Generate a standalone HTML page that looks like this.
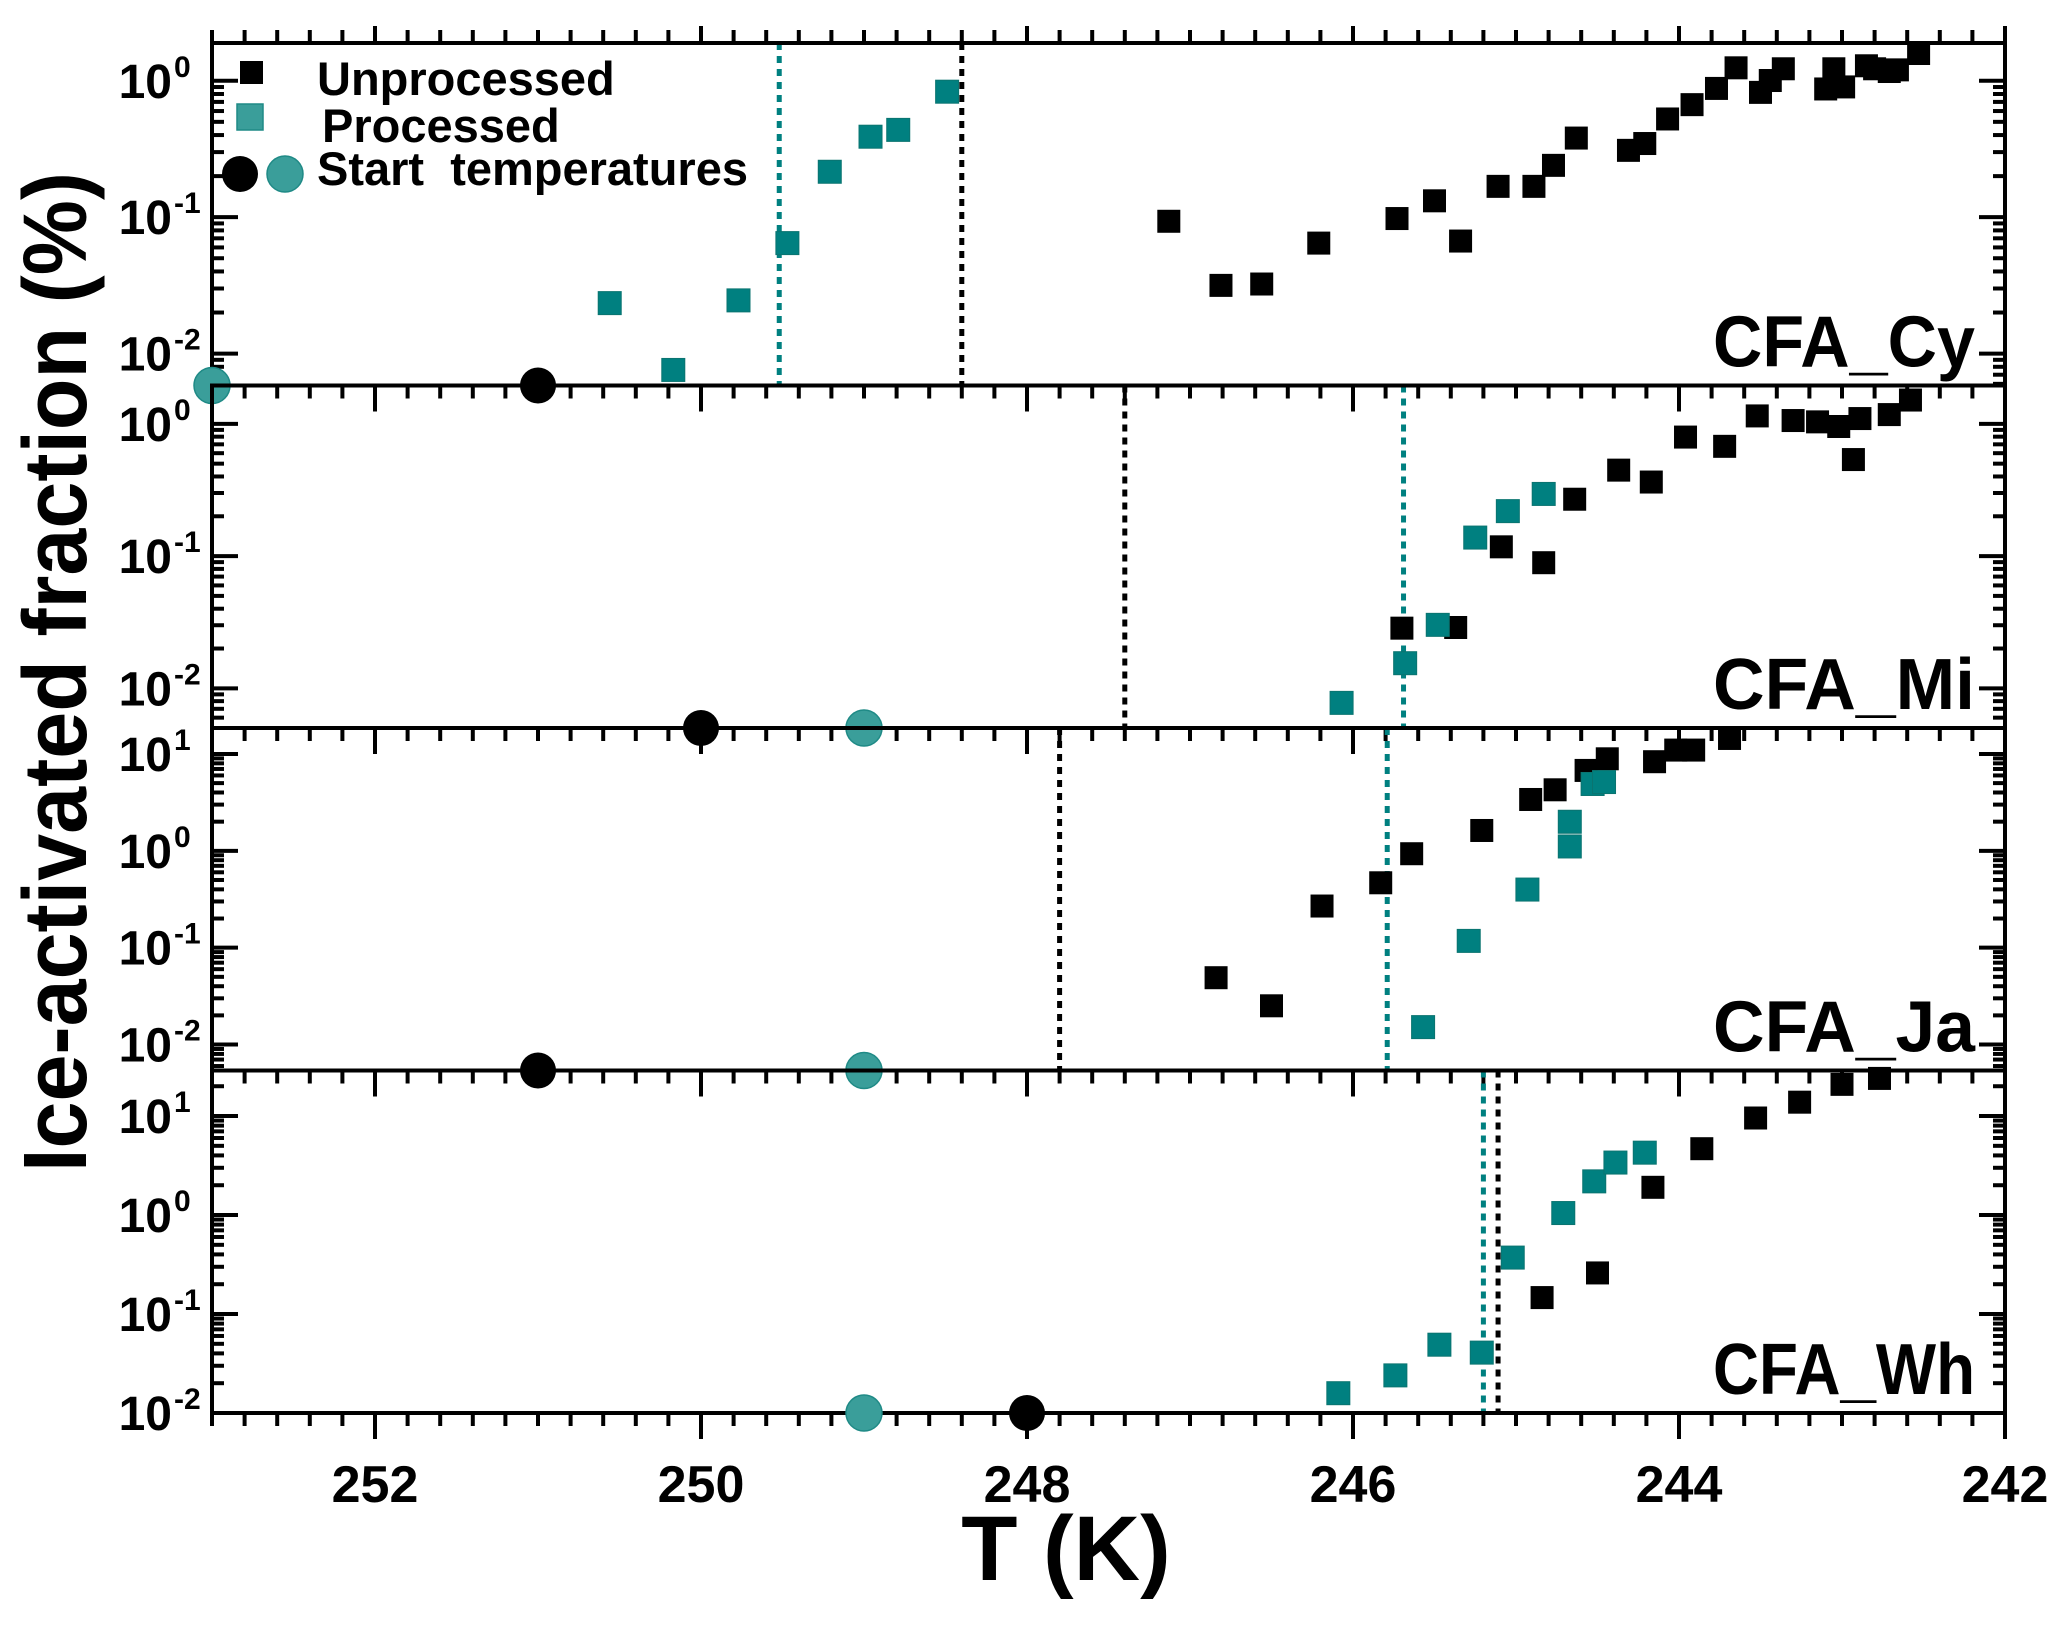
<!DOCTYPE html>
<html><head><meta charset="utf-8"><style>
body{margin:0;background:#fff}
svg{display:block;font-family:"Liberation Sans",Arial,sans-serif;font-weight:bold}
</style></head><body>
<svg id="chart" width="2067" height="1630" viewBox="0 0 2067 1630" xmlns="http://www.w3.org/2000/svg">
<g id="grid"></g>
<text x="0" y="0" font-size="90" text-anchor="middle" transform="translate(86,672) rotate(-90)" textLength="1000" lengthAdjust="spacingAndGlyphs">Ice-activated fraction (%)</text>
<text x="1066" y="1580" font-size="92" text-anchor="middle">T (K)</text>
<g>
<rect x="240" y="61" width="23" height="23" fill="#000"/>
<text x="317" y="95" font-size="47">Unprocessed</text>
<rect x="237" y="104" width="26" height="26" fill="#3a9e9a" stroke="#1f8a86" stroke-width="1.5"/>
<text x="322" y="142" font-size="47">Processed</text>
<circle cx="240" cy="174" r="18" fill="#000"/>
<circle cx="285" cy="174" r="18" fill="#3a9e9a" stroke="#1f8a86" stroke-width="1.5"/>
<text x="317" y="185" font-size="47" xml:space="preserve">Start  temperatures</text>
</g>
</svg>
<script>
const panelNames = ["CFA_Cy","CFA_Mi","CFA_Ja","CFA_Wh"];
const panelTop = [0.277, 0.29, 1.268, 1.46];
const panelBottom = [-2.234, -2.30, -2.268, -2.0];
const panelTicks = [[0,-1,-2],[0,-1,-2],[1,0,-1,-2],[1,0,-1,-2]];
const xTicks = [252,250,248,246,244,242];
const unprocT = [
 [247.13,246.81,246.56,246.21,245.73,245.50,245.34,245.11,244.89,244.77,244.63,244.31,244.21,244.07,243.92,243.77,243.65,243.50,243.44,243.36,243.10,243.05,242.99,242.85,242.80,242.71,242.66,242.53],
 [245.70,245.37,245.09,244.83,244.64,244.37,244.17,243.96,243.72,243.52,243.30,243.15,243.02,242.93,242.89,242.71,242.58],
 [246.84,246.50,246.19,245.83,245.64,245.21,244.91,244.76,244.57,244.44,244.15,244.02,243.91,243.69],
 [244.84,244.50,244.16,243.86,243.53,243.26,243.00,242.77]
];
const unprocLog = [
 [-1.03,-1.50,-1.49,-1.19,-1.01,-0.88,-1.175,-0.774,-0.774,-0.62,-0.42,-0.51,-0.46,-0.28,-0.175,-0.056,0.095,-0.085,0.002,0.088,-0.06,0.088,-0.045,0.11,0.088,0.068,0.08,0.20],
 [-1.545,-1.54,-0.93,-1.05,-0.57,-0.35,-0.44,-0.10,-0.17,0.06,0.025,0.015,-0.02,-0.27,0.04,0.07,0.18],
 [-1.31,-1.60,-0.57,-0.33,-0.03,0.21,0.53,0.63,0.83,0.95,0.92,1.04,1.04,1.16],
 [-0.834,-0.585,0.28,0.67,0.98,1.14,1.32,1.38]
];
const procT = [
 [250.56,250.17,249.77,249.47,249.21,248.96,248.79,248.49],
 [246.07,245.68,245.48,245.25,245.05,244.83],
 [245.57,245.29,244.93,244.67,244.67,244.53,244.46],
 [246.09,245.74,245.47,245.21,245.02,244.71,244.52,244.39,244.21]
];
const procLog = [
 [-1.63,-2.12,-1.61,-1.19,-0.667,-0.41,-0.36,-0.08],
 [-2.11,-1.81,-1.52,-0.86,-0.66,-0.53],
 [-1.82,-0.93,-0.40,0.045,0.30,0.69,0.71],
 [-1.80,-1.62,-1.31,-1.39,-0.43,0.02,0.34,0.53,0.63]
];
const startUnproc = [251,250,251,248];
const startProc = [253,249,249,249];
const lineUnproc = [248.40,247.40,247.80,245.11];
const lineProc = [249.52,245.69,245.79,245.20];

const NS="http://www.w3.org/2000/svg";
const svg=document.getElementById('chart');
const g=document.getElementById('grid');
const L=212,R=2005,T0=43,PH=342.5;
const xs=t=>L+(253-t)*(R-L)/11;
function mk(tag,at,parent){const e=document.createElementNS(NS,tag);for(const k in at)e.setAttribute(k,at[k]);(parent||g).appendChild(e);return e;}
const teal="#008080";
for(let p=0;p<4;p++){
  const top=T0+p*PH,bot=top+PH;
  const ys=v=>top+(panelTop[p]-v)*PH/(panelTop[p]-panelBottom[p]);
  const pg=mk('g',{});
  
  
  for(let i=0;i<=55;i++){
    const t=253-i*0.2, x=xs(t);
    const major=Math.abs(Math.round(t)-t)<1e-6 && Math.round(t)%2===0;
    const len=major?26:13;
    const tk=mk('line',{x1:x,x2:x,y1:bot,y2:bot+len,stroke:'#000','stroke-width':4},pg);
    
    
    if(p===0){const tt=mk('line',{x1:x,x2:x,y1:top,y2:top-(major?17:13),stroke:'#000','stroke-width':4},pg);
      
      }
  }
  const dlo=Math.floor(panelBottom[p]),dhi=Math.ceil(panelTop[p]);
  for(let d=dlo;d<=dhi;d++){for(let m=1;m<10;m++){
    const v=d+Math.log10(m);
    if(v<panelBottom[p]||v>panelTop[p])continue;
    const y=ys(v),len=m===1?26:12;
    const a=mk('line',{x1:L,x2:L+len,y1:y,y2:y,stroke:'#000','stroke-width':4},pg);
    
    
    const b=mk('line',{x1:R,x2:R-len,y1:y,y2:y,stroke:'#000','stroke-width':4},pg);
    
    
  }}
  panelTicks[p].forEach(v=>{
    const tx=mk('text',{x:172,y:ys(v)+17,'font-size':48,'text-anchor':'end'},pg);
    tx.textContent='10';
    
    
    const sp=mk('text',{x:174,y:ys(v)-4,'font-size':30},pg);
    sp.textContent=String(v);
    
    
  });
  const dl1=mk('line',{x1:xs(lineUnproc[p]),x2:xs(lineUnproc[p]),y1:top,y2:bot,stroke:'#000','stroke-width':5,'stroke-dasharray':'7 6'},pg);
  
  
  const dl2=mk('line',{x1:xs(lineProc[p]),x2:xs(lineProc[p]),y1:top,y2:bot,stroke:teal,'stroke-width':5,'stroke-dasharray':'7 6'},pg);
  
  
  unprocT[p].forEach((t,i)=>{
    const r=mk('rect',{x:xs(t)-11.5,y:ys(unprocLog[p][i])-11.5,width:23,height:23,fill:'#000'},pg);
    
    
  });
  procT[p].forEach((t,i)=>{
    const r=mk('rect',{x:xs(t)-11.5,y:ys(procLog[p][i])-11.5,width:23,height:23,fill:teal,stroke:'#0a7470','stroke-width':1},pg);
    
    
  });
  const lb=mk('text',{x:1975,y:bot-19,'font-size':72,'text-anchor':'end',textLength:262,lengthAdjust:'spacingAndGlyphs'},pg);
  lb.textContent=panelNames[p];
  
  
  const fr=mk('rect',{x:L,y:top,width:R-L,height:PH,fill:'none',stroke:'#000','stroke-width':4},pg);
  
  
  const c1=mk('circle',{cx:xs(startUnproc[p]),cy:bot,r:18,fill:'#000'},pg);
  
  
  const c2=mk('circle',{cx:xs(startProc[p]),cy:bot,r:18,fill:'#3a9e9a',stroke:'#1f8a86','stroke-width':1.5},pg);
  
  
}
xTicks.forEach(t=>{
  const tx=mk('text',{x:xs(t),y:1502,'font-size':52,'text-anchor':'middle'});
  tx.textContent=String(t);
  
  
});
</script>
</body></html>
